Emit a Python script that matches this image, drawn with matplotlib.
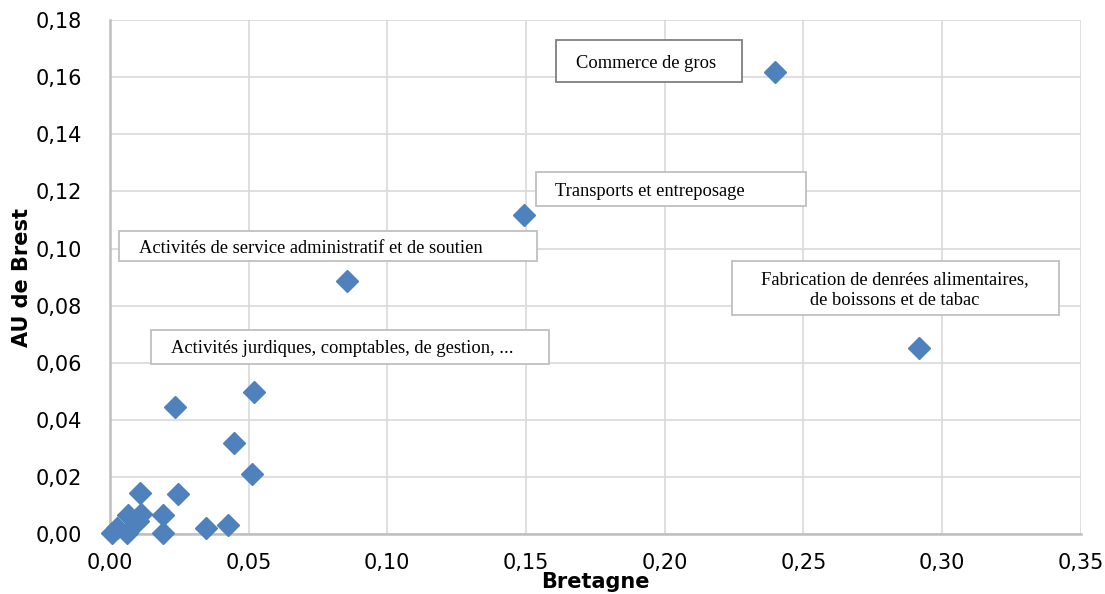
import matplotlib
matplotlib.use("Agg")
import matplotlib.pyplot as plt
from matplotlib.patches import Rectangle
from matplotlib.ticker import FuncFormatter

# --- data ---
bretagne = [0.2397, 0.1492, 0.0854, 0.2916, 0.0519, 0.0234, 0.0447, 0.0512,
            0.0108, 0.0246, 0.0066, 0.0111, 0.0102, 0.0192, 0.0190, 0.0346,
            0.0425, 0.0006, 0.0024, 0.0060]
au_brest = [0.1618, 0.1116, 0.0888, 0.0653, 0.0498, 0.0446, 0.0319, 0.0211,
            0.0145, 0.0140, 0.0066, 0.0070, 0.0045, 0.0066, 0.0005, 0.0020,
            0.0030, 0.0005, 0.0020, 0.0003]

labels = ["Commerce de gros",
          "Transports et entreposage",
          "Activités de service administratif et de soutien",
          "Fabrication de denrées alimentaires,\nde boissons et de tabac",
          "Activités jurdiques, comptables, de gestion, ..."]
# label boxes: x0, y0, x1, y1 (data units), text anchor
box_x0 = [0.1608, 0.1536, 0.0032, 0.2242, 0.0148]
box_x1 = [0.2279, 0.2509, 0.1539, 0.3421, 0.1583]
box_y0 = [0.1583, 0.1148, 0.0956, 0.0768, 0.0597]
box_y1 = [0.1730, 0.1267, 0.1061, 0.0958, 0.0716]
text_x = [0.1680, 0.1605, 0.0104, 0.2831, 0.0220]
text_ha = ["left", "left", "left", "center", "left"]

xticks = [0, 0.05, 0.10, 0.15, 0.20, 0.25, 0.30, 0.35]
yticks = [0, 0.02, 0.04, 0.06, 0.08, 0.10, 0.12, 0.14, 0.16, 0.18]

fig = plt.figure(figsize=(11.05, 5.94), dpi=100)
ax = fig.add_axes([0.0995, 0.101, 0.8785, 0.865])

ax.grid(True, color="#d9d9d9", linewidth=1.2, zorder=0)
ax.set_axisbelow(True)

for x0, x1, y0, y1, tx, ha, lab, i in zip(box_x0, box_x1, box_y0, box_y1,
                                          text_x, text_ha, labels, range(5)):
    ec = "#7f7f7f" if i == 0 else "#bfbfbf"
    ax.add_patch(Rectangle((x0, y0), x1 - x0, y1 - y0, facecolor="white",
                           edgecolor=ec, linewidth=1.3, zorder=2))
    ax.text(tx, (y0 + y1) / 2 - 0.0007, lab, ha=ha, va="center", fontsize=13.3,
            family="Liberation Serif", linespacing=1.3, zorder=3)

ax.plot(bretagne, au_brest, linestyle="none", marker="D", markersize=11.5,
        color="#4f81bd", markeredgecolor="#4f81bd", zorder=4, clip_on=False)

ax.set_xlim(0, 0.35)
ax.set_ylim(0, 0.18)
ax.set_xticks(xticks)
ax.set_yticks(yticks)
fmt = FuncFormatter(lambda v, p: f"{v:.2f}".replace(".", ","))
ax.xaxis.set_major_formatter(fmt)
ax.yaxis.set_major_formatter(fmt)
ax.tick_params(length=0, labelsize=15, colors="#000000")
ax.tick_params(axis="y", pad=20)
ax.tick_params(axis="x", pad=14)

for s in ["top", "right"]:
    ax.spines[s].set_visible(False)
for s in ["left", "bottom"]:
    ax.spines[s].set_color("#bfbfbf")
    ax.spines[s].set_linewidth(1.8)

ax.set_xlabel("Bretagne", fontsize=15, fontweight="bold", labelpad=-1)
ax.set_ylabel("AU de Brest", fontsize=15, fontweight="bold", labelpad=3)

plt.savefig("out.png", dpi=100)
